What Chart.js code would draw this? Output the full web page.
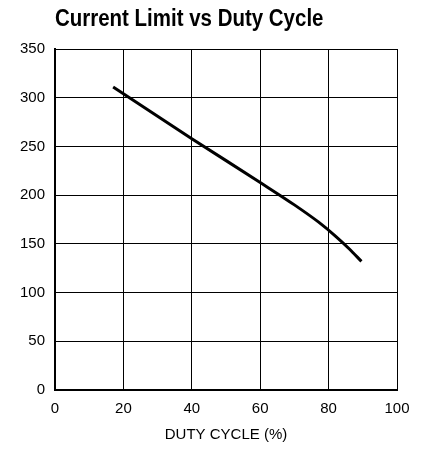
<!DOCTYPE html>
<html>
<head>
<meta charset="utf-8">
<script src="https://cdn.jsdelivr.net/npm/chart.js@4"></script>
<style>
    html, body { margin: 0; padding: 0; background: #fff; }
    #wrap { width: 428px; height: 450px; }
</style>
</head>
<body>
<div id="wrap"><canvas id="graphique"></canvas></div>
<script>
    // valeurs
    const dutyCycle = [17, 40, 60, 70, 77, 82, 86, 89.6];
    const currentLimit = [311, 258, 213, 190, 172.5, 158, 145, 132];

    const xTicks = [0, 20, 40, 60, 80, 100];
    const yTicks = [0, 50, 100, 150, 200, 250, 300, 350];

    const titre = 'Current Limit vs Duty Cycle';
    const labelX = 'DUTY CYCLE (%)';

    let points = [];
    for (let i = 0; i < dutyCycle.length; i++) {
        points.push({x: dutyCycle[i], y: currentLimit[i]});
    }

    const police = "'Liberation Sans', Arial, sans-serif";

    // titre en gras un peu resserré (pas de police "narrow" dispo), aligné sur la zone du graphique
    const titreEtroit = {
        id: 'titreEtroit',
        afterDraw(chart) {
            const c = chart.ctx;
            c.save();
            c.font = "bold 23px 'Liberation Sans', Arial, sans-serif";
            c.fillStyle = '#000';
            c.textBaseline = 'alphabetic';
            c.textAlign = 'left';
            c.translate(chart.chartArea.left, 26);
            c.scale(0.89, 1);
            c.fillText(titre, 0, 0);
            c.restore();
        }
    };

    const ctx = document.getElementById('graphique').getContext('2d');
    new Chart(ctx, {
        type: 'line',
        data: {
            datasets: [{
                data: points,
                borderColor: '#000',
                borderWidth: 3,
                pointRadius: 0,
                fill: false,
                cubicInterpolationMode: 'monotone'
            }]
        },
        options: {
            responsive: true,
            maintainAspectRatio: false,
            animation: false,
            layout: {
                padding: {left: 0, right: 31, top: 49, bottom: 0}
            },
            scales: {
                x: {
                    type: 'linear',
                    min: 0,
                    max: 100,
                    afterBuildTicks: (scale) => {
                        scale.ticks = xTicks.map(v => ({value: v}));
                    },
                    afterFit: (scale) => {
                        scale.height = 60;
                    },
                    grid: {
                        color: '#000',
                        lineWidth: 1,
                        drawTicks: false
                    },
                    border: {
                        color: '#000',
                        width: 2
                    },
                    ticks: {
                        color: '#000',
                        padding: 10,
                        maxRotation: 0,
                        font: {family: police, size: 15}
                    },
                    title: {
                        display: true,
                        text: labelX,
                        color: '#000',
                        padding: {top: 0, bottom: 6},
                        font: {family: police, size: 15}
                    }
                },
                y: {
                    type: 'linear',
                    min: 0,
                    max: 350,
                    afterBuildTicks: (scale) => {
                        scale.ticks = yTicks.map(v => ({value: v}));
                    },
                    afterFit: (scale) => {
                        scale.width = 55;
                    },
                    grid: {
                        color: '#000',
                        lineWidth: 1,
                        drawTicks: false
                    },
                    border: {
                        color: '#000',
                        width: 2
                    },
                    ticks: {
                        color: '#000',
                        padding: 10,
                        font: {family: police, size: 15}
                    }
                }
            },
            plugins: {
                legend: {display: false},
                tooltip: {enabled: false},
                title: {display: false}
            }
        },
        plugins: [titreEtroit]
    });
</script>
</body>
</html>
